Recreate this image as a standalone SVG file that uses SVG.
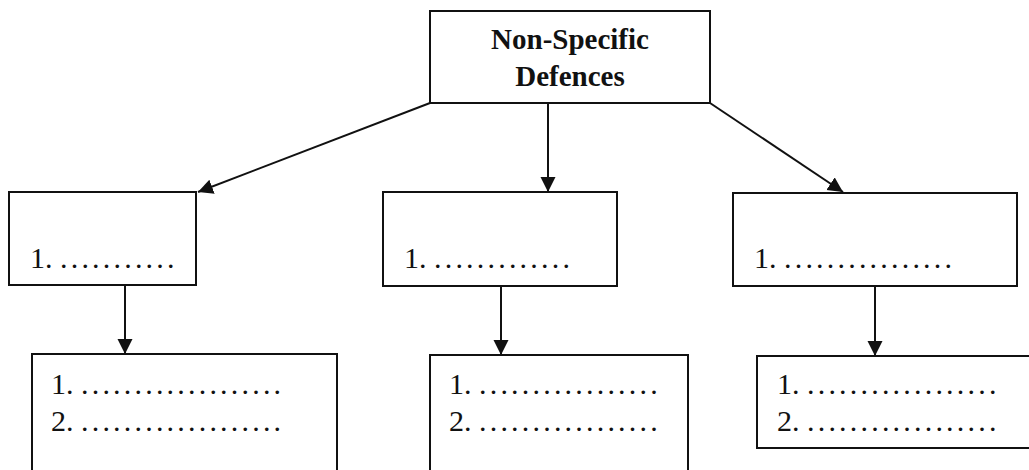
<svg xmlns="http://www.w3.org/2000/svg" width="1029" height="470" viewBox="0 0 1029 470">
<style>
.box{fill:#fff;stroke:#111;stroke-width:2}
.t{font-family:"Liberation Serif","Times New Roman",serif;font-size:30px;fill:#111}
.h{font-family:"Liberation Serif","Times New Roman",serif;font-size:29px;font-weight:bold;fill:#111;text-anchor:middle}
.d{letter-spacing:3.2px}
.c{stroke:#111;stroke-width:2;fill:none;marker-end:url(#ah)}
</style>
<defs>
<marker id="ah" markerUnits="userSpaceOnUse" markerWidth="16" markerHeight="16" refX="15" refY="7.5" orient="auto">
<path d="M0,0 L15,7.5 L0,15 z" fill="#111"/>
</marker>
</defs>
<rect width="1029" height="470" fill="#fff"/>
<g id="connectors">
<line class="c" x1="430" y1="103" x2="198" y2="192"/>
<line class="c" x1="548" y1="103" x2="548" y2="192"/>
<line class="c" x1="710" y1="103" x2="843" y2="192"/>
<line class="c" x1="125" y1="285" x2="125" y2="354"/>
<line class="c" x1="501" y1="286" x2="501" y2="355"/>
<line class="c" x1="875" y1="286" x2="875" y2="356"/>
</g>
<g id="top">
<rect class="box" x="430" y="11" width="280" height="92"/>
<text class="h" x="570" y="49">Non-Specific</text>
<text class="h" x="570" y="86">Defences</text>
</g>
<g id="midLeft">
<rect class="box" x="9" y="192" width="187" height="93"/>
<text class="t" x="30" y="268">1. <tspan class="d">...........</tspan></text>
</g>
<g id="midCenter">
<rect class="box" x="383" y="192" width="234" height="94"/>
<text class="t" x="404" y="268">1. <tspan class="d">.............</tspan></text>
</g>
<g id="midRight">
<rect class="box" x="733" y="193" width="284" height="93"/>
<text class="t" x="754" y="268">1. <tspan class="d">................</tspan></text>
</g>
<g id="botLeft">
<rect class="box" x="32" y="354" width="305" height="130"/>
<text class="t" x="51" y="394">1. <tspan class="d">...................</tspan></text>
<text class="t" x="51" y="431">2. <tspan class="d">...................</tspan></text>
</g>
<g id="botCenter">
<rect class="box" x="430" y="355" width="258" height="130"/>
<text class="t" x="449" y="394">1. <tspan class="d">.................</tspan></text>
<text class="t" x="449" y="431">2. <tspan class="d">.................</tspan></text>
</g>
<g id="botRight">
<rect class="box" x="757" y="356" width="280" height="92"/>
<text class="t" x="777" y="394">1. <tspan class="d">..................</tspan></text>
<text class="t" x="777" y="431">2. <tspan class="d">..................</tspan></text>
</g>
</svg>
